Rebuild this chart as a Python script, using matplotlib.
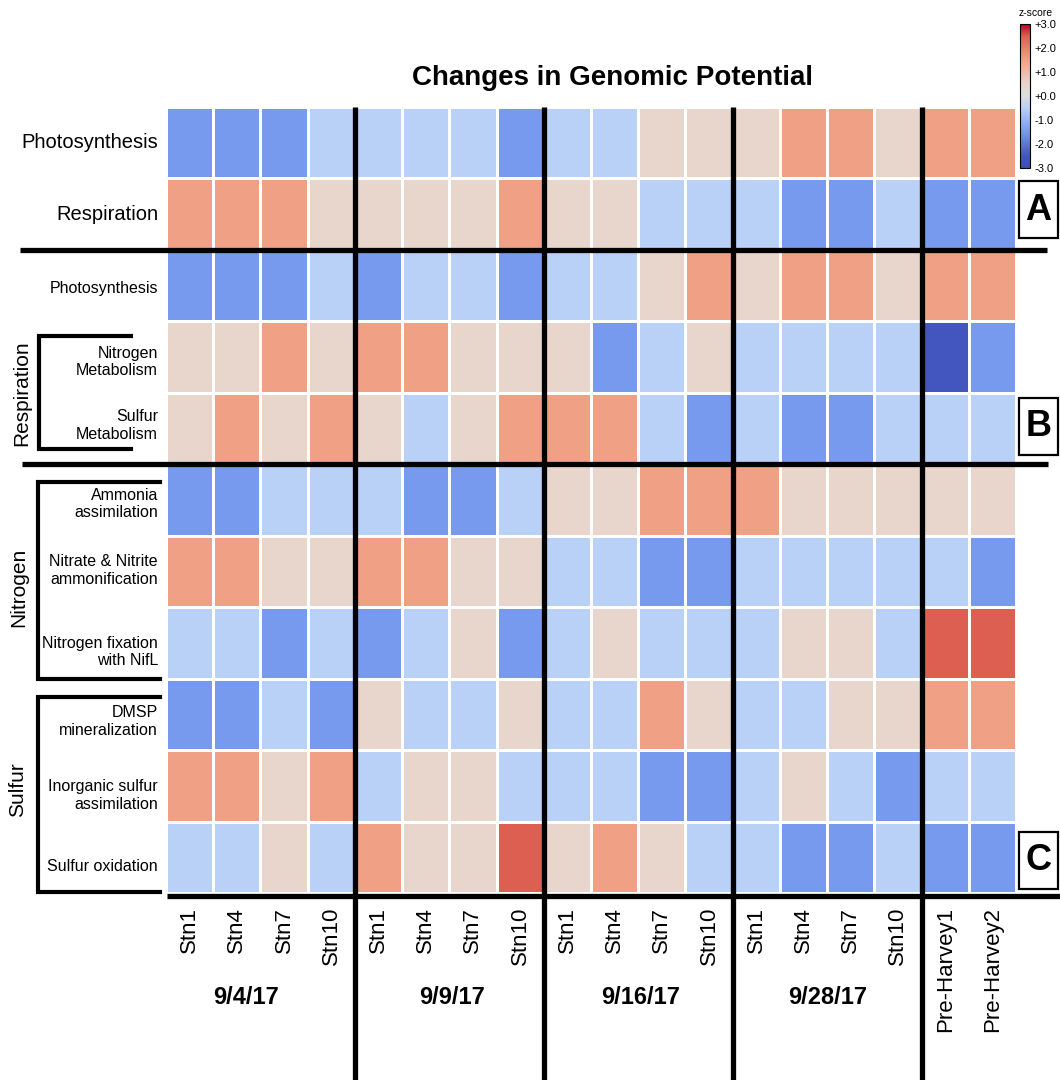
import numpy as np
import matplotlib.pyplot as plt
from matplotlib.colors import LinearSegmentedColormap
from matplotlib.patches import Rectangle

plt.rcParams['font.family'] = ['Liberation Sans', 'DejaVu Sans']

# columns: 4 sampling dates x 4 stations, then two pre-Harvey samples
stations = ['Stn1', 'Stn4', 'Stn7', 'Stn10']
dates = ['9/4/17', '9/9/17', '9/16/17', '9/28/17']
pre_harvey = ['Pre-Harvey1', 'Pre-Harvey2']
columns = stations * len(dates) + pre_harvey

# panel A
rows_A = ['Photosynthesis', 'Respiration']
zscore_A = [
    [-1.5, -1.5, -1.5, -0.5, -0.5, -0.5, -0.5, -1.5, -0.5, -0.5, 0.5, 0.5, 0.5, 1.5, 1.5, 0.5, 1.5, 1.5],
    [1.5, 1.5, 1.5, 0.5, 0.5, 0.5, 0.5, 1.5, 0.5, 0.5, -0.5, -0.5, -0.5, -1.5, -1.5, -0.5, -1.5, -1.5],
]

# panel B
rows_B = ['Photosynthesis', 'Nitrogen\nMetabolism', 'Sulfur\nMetabolism']
zscore_B = [
    [-1.5, -1.5, -1.5, -0.5, -1.5, -0.5, -0.5, -1.5, -0.5, -0.5, 0.5, 1.5, 0.5, 1.5, 1.5, 0.5, 1.5, 1.5],
    [0.5, 0.5, 1.5, 0.5, 1.5, 1.5, 0.5, 0.5, 0.5, -1.5, -0.5, 0.5, -0.5, -0.5, -0.5, -0.5, -2.5, -1.5],
    [0.5, 1.5, 0.5, 1.5, 0.5, -0.5, 0.5, 1.5, 1.5, 1.5, -0.5, -1.5, -0.5, -1.5, -1.5, -0.5, -0.5, -0.5],
]

# panel C
rows_C = ['Ammonia\nassimilation', 'Nitrate & Nitrite\nammonification',
          'Nitrogen fixation\nwith NifL', 'DMSP\nmineralization',
          'Inorganic sulfur\nassimilation', 'Sulfur oxidation']
zscore_C = [
    [-1.5, -1.5, -0.5, -0.5, -0.5, -1.5, -1.5, -0.5, 0.5, 0.5, 1.5, 1.5, 1.5, 0.5, 0.5, 0.5, 0.5, 0.5],
    [1.5, 1.5, 0.5, 0.5, 1.5, 1.5, 0.5, 0.5, -0.5, -0.5, -1.5, -1.5, -0.5, -0.5, -0.5, -0.5, -0.5, -1.5],
    [-0.5, -0.5, -1.5, -0.5, -1.5, -0.5, 0.5, -1.5, -0.5, 0.5, -0.5, -0.5, -0.5, 0.5, 0.5, -0.5, 2.5, 2.5],
    [-1.5, -1.5, -0.5, -1.5, 0.5, -0.5, -0.5, 0.5, -0.5, -0.5, 1.5, 0.5, -0.5, -0.5, 0.5, 0.5, 1.5, 1.5],
    [1.5, 1.5, 0.5, 1.5, -0.5, 0.5, 0.5, -0.5, -0.5, -0.5, -1.5, -1.5, -0.5, 0.5, -0.5, -1.5, -0.5, -0.5],
    [-0.5, -0.5, 0.5, -0.5, 1.5, 0.5, 0.5, 2.5, 0.5, 1.5, 0.5, -0.5, -0.5, -1.5, -1.5, -0.5, -1.5, -1.5],
]

cbar_ticks = [-3, -2, -1, 0, 1, 2, 3]
cbar_labels = ['-3.0', '-2.0', '-1.0', '+0.0', '+1.0', '+2.0', '+3.0']

Z = np.array(zscore_A + zscore_B + zscore_C)
n_rows, n_cols = Z.shape

cmap = LinearSegmentedColormap.from_list('zs', [
    (0.0, '#3B4CC0'), (0.5 / 6, '#4356BF'), (1.5 / 6, '#7799EE'),
    (2.5 / 6, '#B9D0F7'), (0.5, '#DDDDDD'), (3.5 / 6, '#E8D6CC'),
    (4.5 / 6, '#F0A286'), (5.5 / 6, '#DC6052'), (1.0, '#B40426')])

W, H = 1060, 1080
fig = plt.figure(figsize=(W / 100, H / 100), dpi=100)

# heatmap placed in pixel box
X0, X1, Y0, Y1 = 166, 1016, 107, 893
CW = (X1 - X0) / n_cols
RH = (Y1 - Y0) / n_rows
ax = fig.add_axes([X0 / W, 1 - Y1 / H, (X1 - X0) / W, (Y1 - Y0) / H])
mesh = ax.pcolormesh(np.arange(n_cols + 1), np.arange(n_rows + 1), Z, cmap=cmap,
                     vmin=-3, vmax=3, edgecolors='white', linewidth=1.0)
ax.set_xlim(0, n_cols)
ax.set_ylim(n_rows, 0)
ax.axis('off')

# overlay in pixel coords for labels and separators
ov = fig.add_axes([0, 0, 1, 1], zorder=5)
ov.set_xlim(0, W)
ov.set_ylim(H, 0)
ov.axis('off')

ov.text(612, 78, 'Changes in Genomic Potential', fontsize=20, fontweight='bold',
        ha='center', va='center')

# row labels (small vertical nudges as in the original figure)
all_rows = rows_A + rows_B + rows_C
label_dy = [0, 0, 3, 5, -3, 4, -1, 9, 7, 10, 9]
for i, lab in enumerate(all_rows):
    y = Y0 + (i + 0.5) * RH + label_dy[i]
    if i < len(rows_A):
        ov.text(158, y, lab, fontsize=14.5, ha='right', va='center')
    else:
        ov.text(158, y, lab, fontsize=11.5, ha='right', va='center',
                linespacing=1.22)

# column labels
for j, lab in enumerate(columns):
    ov.text(X0 + (j + 0.5) * CW, 907, lab, fontsize=16, rotation=90,
            ha='center', va='top')
date_shift = [-14, 3, 2, 1]
for g, d in enumerate(dates):
    ov.text(X0 + (4 * g + 2) * CW + date_shift[g], 997, d, fontsize=17,
            fontweight='bold', ha='center', va='center')

# thick separators
for k in [4, 8, 12, 16]:
    ov.plot([X0 + k * CW] * 2, [Y0, H], color='black', lw=3.8, solid_capstyle='butt')
ov.plot([20, 1047], [Y0 + 2 * RH] * 2, color='black', lw=3.8, solid_capstyle='butt')
ov.plot([22, 1048], [Y0 + 5 * RH] * 2, color='black', lw=3.8, solid_capstyle='butt')
ov.plot([167, W], [Y1 + 3] * 2, color='black', lw=3.8, solid_capstyle='butt')

# group brackets
brackets = [(39, 336, 449, 131, 'Respiration', 22, 393),
            (38, 482, 679, 160, 'Nitrogen', 19, 587),
            (38, 697, 892, 160, 'Sulfur', 18, 790)]
for bx, top, bot, right, lab, tx, ty in brackets:
    ov.plot([right, bx, bx, right], [top, top, bot, bot], color='black', lw=3,
            solid_joinstyle='miter')
    ov.text(tx, ty, lab, fontsize=15, rotation=90, ha='center', va='center')

# panel letters
for lab, top in [('A', 181), ('B', 398), ('C', 832)]:
    ov.add_patch(Rectangle((1019, top), 39, 57, fill=False, ec='black', lw=1.6))
    ov.text(1038.5, top + 29, lab, fontsize=26, fontweight='bold',
            ha='center', va='center')

# colour bar
cax = fig.add_axes([1020 / W, 1 - 168 / H, 10 / W, 144 / H])
cb = fig.colorbar(mesh, cax=cax, ticks=cbar_ticks)
cb.ax.set_yticklabels(cbar_labels)
cb.ax.tick_params(length=0, labelsize=8, pad=3)
cb.outline.set_linewidth(0.8)
cb.ax.set_title('z-score', fontsize=7.5, pad=6, x=1.6)

fig.savefig('out.png', dpi=100)
